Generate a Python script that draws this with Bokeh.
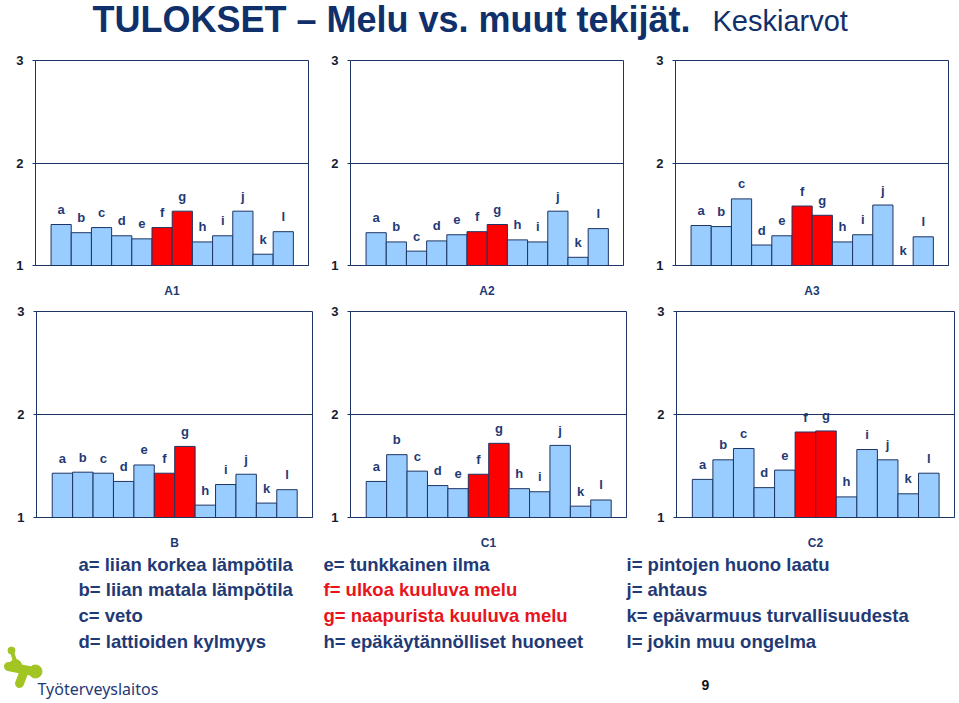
from bokeh.plotting import figure
from bokeh.layouts import column, row
from bokeh.models import Range1d, FixedTicker, ColumnDataSource
from bokeh.core.properties import value
from bokeh.embed import file_html
from bokeh.resources import INLINE

categories = ["a", "b", "c", "d", "e", "f", "g", "h", "i", "j", "k", "l"]
highlight = ["f", "g"]

a1_values = [1.40, 1.32, 1.37, 1.29, 1.26, 1.37, 1.53, 1.23, 1.29, 1.53, 1.11, 1.33]
a2_values = [1.32, 1.23, 1.14, 1.24, 1.30, 1.33, 1.40, 1.25, 1.23, 1.53, 1.08, 1.36]
a3_values = [1.39, 1.38, 1.65, 1.20, 1.29, 1.58, 1.49, 1.23, 1.30, 1.59, 1.00, 1.28]
b_values = [1.43, 1.44, 1.43, 1.35, 1.51, 1.43, 1.69, 1.12, 1.32, 1.42, 1.14, 1.27]
c1_values = [1.35, 1.61, 1.45, 1.31, 1.28, 1.42, 1.72, 1.28, 1.25, 1.70, 1.11, 1.17]
c2_values = [1.37, 1.56, 1.67, 1.29, 1.46, 1.83, 1.84, 1.20, 1.66, 1.56, 1.23, 1.43]

panel_names = ["A1", "A2", "A3", "B", "C1", "C2"]
y_ticks = [1, 2, 3]

legend_col1 = ["a= liian korkea lämpötila", "b= liian matala lämpötila", "c= veto", "d= lattioiden kylmyys"]
legend_col2 = ["e= tunkkainen ilma", "f= ulkoa kuuluva melu", "g= naapurista kuuluva melu", "h= epäkäytännölliset huoneet"]
legend_col3 = ["i= pintojen huono laatu", "j= ahtaus", "k= epävarmuus turvallisuudesta", "l= jokin muu ongelma"]

title_main = "TULOKSET – Melu vs. muut tekijät."
title_sub = "Keskiarvot"
logo_text = "Työterveyslaitos"
page_number = "9"

NAVY = "#1d3564"
BLUE = "#99ccff"
RED = "#ff0000"
TXT = "#1f3a75"
TXT_RED = "#e8141c"
FONT = "Liberation Sans"


def make_panel(name, vals, left, fw, right, top, fh, bottom):
    p = figure(frame_width=fw, frame_height=fh,
               min_border_left=left, min_border_right=right,
               min_border_top=top, min_border_bottom=bottom,
               x_range=Range1d(-0.27, 13.25), y_range=Range1d(1, 3),
               output_backend="svg", toolbar_location=None)
    xs = list(range(1, len(categories) + 1))
    colors = [RED if c in highlight else BLUE for c in categories]
    src = ColumnDataSource(dict(x=xs, top=vals, cat=categories, color=colors))
    p.vbar(x="x", top="top", bottom=1, width=1.0, fill_color="color",
           line_color=NAVY, line_width=1, source=src)
    p.text(x="x", y="top", text="cat", source=src, y_offset=-15,
           text_align="center", text_baseline="middle",
           text_font=value(FONT), text_font_style="bold",
           text_font_size="13px", text_color=TXT)
    p.xgrid.visible = False
    p.ygrid.ticker = FixedTicker(ticks=[2])
    p.ygrid.grid_line_color = NAVY
    p.ygrid.grid_line_alpha = 1.0
    p.ygrid.grid_line_width = 1
    p.outline_line_color = NAVY
    p.outline_line_alpha = 1.0
    p.outline_line_width = 1
    ya = p.yaxis[0]
    ya.ticker = FixedTicker(ticks=y_ticks)
    ya.axis_line_color = NAVY
    ya.major_tick_line_color = NAVY
    ya.major_tick_in = 0
    ya.major_tick_out = 3
    ya.minor_tick_line_color = None
    ya.major_label_standoff = 9
    ya.major_label_text_font = FONT
    ya.major_label_text_font_style = "bold"
    ya.major_label_text_font_size = "13px"
    ya.major_label_text_color = "#141c30"
    xa = p.xaxis[0]
    xa.ticker = FixedTicker(ticks=[])
    xa.axis_line_color = NAVY
    xa.major_tick_out = 0
    xa.major_tick_in = 0
    xa.minor_tick_line_color = None
    xa.major_label_standoff = 0
    xa.axis_label = name
    xa.axis_label_standoff = 18
    xa.axis_label_text_font = FONT
    xa.axis_label_text_font_style = "bold"
    xa.axis_label_text_font_size = "12px"
    xa.axis_label_text_color = TXT
    p.background_fill_color = "white"
    p.border_fill_color = "white"
    return p


def blank(w, h):
    p = figure(width=w, height=h, x_range=Range1d(0, w), y_range=Range1d(h, 0),
               output_backend="svg", toolbar_location=None,
               x_axis_type=None, y_axis_type=None,
               min_border=0, min_border_left=0, min_border_right=0,
               min_border_top=0, min_border_bottom=0)
    p.grid.visible = False
    p.outline_line_color = None
    p.background_fill_color = "white"
    p.border_fill_color = "white"
    return p


# Title
tp = blank(959, 52)
tp.text(x=[92], y=[19], text=[title_main], text_align="left", text_baseline="alphabetic",
        text_font=value(FONT), text_font_style="bold",
        text_font_size="36px", text_color="#10306b")
tp.text(x=[712], y=[20], text=[title_sub], text_align="left", text_baseline="alphabetic",
        text_font=value(FONT), text_font_style="normal",
        text_font_size="29px", text_color="#10306b")

all_vals = [a1_values, a2_values, a3_values, b_values, c1_values, c2_values]
geo_top = [(35, 273, 12), (30, 273, 17), (35, 273, 11)]
geo_bot = [(36, 276, 8), (30, 276, 14), (36, 278, 5)]
row1 = [make_panel(panel_names[i], all_vals[i], *geo_top[i], 8, 205, 38) for i in range(3)]
row2 = [make_panel(panel_names[i + 3], all_vals[i + 3], *geo_bot[i], 8, 206, 32) for i in range(3)]

# Legend / footer
lp = blank(959, 154)
row_y = [12, 37, 63, 89]
col_x = [78, 323, 626]
for cx, texts in zip(col_x, [legend_col1, legend_col2, legend_col3]):
    cols = [TXT_RED if t[0] in highlight else TXT for t in texts]
    lp.text(x=[cx] * len(texts), y=row_y, text=texts, text_color=cols,
            text_align="left", text_baseline="middle",
            text_font=value(FONT), text_font_style="bold", text_font_size="18.5px")
lp.text(x=[705], y=[132], text=[page_number], text_align="center", text_baseline="middle",
        text_font=value(FONT), text_font_style="bold", text_font_size="14px", text_color="#111111")
# logo
GREEN = "#a2c523"
lp.segment(x0=[11, 8, 24], y0=[98, 114, 118], x1=[15, 33, 19], y1=[110, 119, 131],
           line_color=GREEN, line_width=[4, 9, 9], line_cap="round")
lp.scatter(x=[11, 15, 35], y=[98, 113, 119], size=[7, 12, 13], fill_color=GREEN, line_color=GREEN)
lp.text(x=[37], y=[136], text=[logo_text], text_align="left", text_baseline="middle",
        text_font=value("Noto Sans"), text_font_size="16px", text_color="#1f3a75")

layout = column(tp, row(*row1), row(*row2), lp, spacing=0)

open("out.html", "w").write(file_html(layout, INLINE))
